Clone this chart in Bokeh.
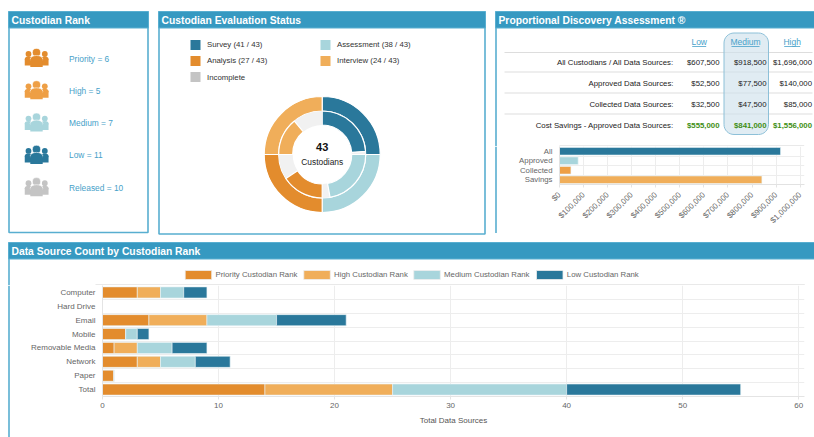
import math
from bokeh.plotting import figure
from bokeh.layouts import column, row
from bokeh.models import Range1d, FactorRange, FixedTicker, NumeralTickFormatter
from bokeh.core.properties import value
from bokeh.embed import file_html
from bokeh.resources import INLINE

FONT = "Liberation Sans"
DARK, LIGHT, ORANGE, AMBER, GREY = "#2A789B", "#A8D5DC", "#E38C2D", "#F0AE5A", "#C4C4C4"
HEAD, EDGE, BLUE = "#3699C1", "#58AED0", "#47A1C9"

rank_names = ["Priority", "High", "Medium", "Low", "Released"]
rank_counts = [6, 5, 7, 11, 10]
rank_colors = [ORANGE, "#EE9F45", LIGHT, DARK, GREY]

status_names = ["Survey", "Assessment", "Analysis", "Interview"]
status_done = [41, 38, 27, 24]
status_total = 43
status_colors = [DARK, LIGHT, ORANGE, AMBER]

pda_levels = ["Low", "Medium", "High"]
pda_rows = ["All Custodians / All Data Sources:", "Approved Data Sources:",
            "Collected Data Sources:", "Cost Savings - Approved Data Sources:"]
pda_low = [607500, 52500, 32500, 555000]
pda_medium = [918500, 77500, 47500, 841000]
pda_high = [1696000, 140000, 85000, 1556000]
pda_bar_names = ["All", "Approved", "Collected", "Savings"]
pda_bar_colors = [DARK, LIGHT, "#EE9F45", AMBER]

sources = ["Computer", "Hard Drive", "Email", "Mobile", "Removable Media", "Network", "Paper", "Total"]
priority = [3, 0, 4, 2, 1, 3, 1, 14]
high = [2, 0, 5, 0, 2, 2, 0, 11]
medium = [2, 0, 6, 1, 3, 3, 0, 15]
low = [2, 0, 6, 1, 3, 3, 0, 15]
stack_names = ["Priority Custodian Rank", "High Custodian Rank", "Medium Custodian Rank", "Low Custodian Rank"]
stack_colors = [ORANGE, AMBER, LIGHT, DARK]


def canvas(x0, x1, y0, y1):
    """A figure whose data coordinates are the page's pixels."""
    p = figure(width=x1 - x0, height=y1 - y0, x_range=Range1d(x0, x1), y_range=Range1d(y1, y0),
               x_axis_type=None, y_axis_type=None, toolbar_location=None, output_backend="svg",
               min_border=0, outline_line_color=None, background_fill_color="white", margin=(0, 0, 0, 0),
               frame_align=False)
    p.grid.visible = False
    return p


def label(p, x, y, text, size="8px", color="#333333", align="left", style="normal"):
    p.text(x=[x], y=[y], text=[text], text_font=value(FONT), text_font_size=size, text_color=color,
           text_align=align, text_baseline="middle", text_font_style=style)


def panel(p, x0, x1, y0, title):
    p.quad(left=x0, right=x1, top=y0, bottom=y0 + 16.5, fill_color=HEAD, line_color=EDGE, line_width=1)
    label(p, x0 + 3, y0 + 8.5, title, "10.3px", "white", style="bold")


def money(v):
    return f"${v:,.0f}"


def rounded(x0, x1, y0, y1, r):
    xs, ys = [], []
    for cx, cy, start in [(x1 - r, y0 + r, -90), (x1 - r, y1 - r, 0), (x0 + r, y1 - r, 90), (x0 + r, y0 + r, 180)]:
        for k in range(9):
            a = math.radians(start + k * 90 / 8)
            xs.append(cx + r * math.cos(a))
            ys.append(cy + r * math.sin(a))
    return xs + xs[:1], ys + ys[:1]


# ---- Custodian Rank
p1 = canvas(0, 153, 0, 238)
p1.quad(left=8.5, right=147.5, top=11.5, bottom=232, fill_color="white", line_color=EDGE, line_width=1.6)
panel(p1, 8, 148, 11, "Custodian Rank")
for i, (n, c, col) in enumerate(zip(rank_names, rank_counts, rank_colors)):
    cy = 58 + i * 32.3
    for dx, w, r, hy, top, bot in [(-8, 7.5, 2.9, -4.5, -1, 7), (8.3, 7.5, 2.9, -4.5, -1, 7)]:
        p1.circle(x=36 + dx, y=cy + hy, radius=r, fill_color=col, line_color=None)
        p1.ellipse(x=36 + dx, y=cy + top + 1.5, width=w, height=5, fill_color=col, line_color=None)
        p1.quad(left=36 + dx - w / 2, right=36 + dx + w / 2, top=cy + top + 1.5, bottom=cy + bot,
                fill_color=col, line_color=None)
    p1.circle(x=36, y=cy - 6, radius=4.1, fill_color=col, line_color="white", line_width=0.6)
    p1.ellipse(x=36, y=cy + 0.5, width=12.5, height=7, fill_color=col, line_color="white", line_width=0.6)
    p1.quad(left=29.8, right=42.2, top=cy + 0.5, bottom=cy + 8.5, fill_color=col, line_color=None)
    label(p1, 68.5, cy, f"{n} = {c}", "8.4px", BLUE)

# ---- Custodian Evaluation Status
p2 = canvas(153, 490, 0, 238)
p2.quad(left=158.5, right=484.5, top=11.5, bottom=233.5, fill_color="white", line_color=EDGE, line_width=1.6)
panel(p2, 158, 485, 11, "Custodian Evaluation Status")
for i, (n, d, col) in enumerate(zip(status_names, status_done, status_colors)):
    lx = 190 if i % 2 == 0 else 320
    ly = 44.5 + (i // 2) * 16
    p2.quad(left=lx, right=lx + 10, top=ly - 5, bottom=ly + 5, fill_color=col, line_color=None)
    label(p2, lx + 16.5, ly - 0.5, f"{n} ({d} / {status_total})", "7.8px")
p2.quad(left=190, right=200, top=71.5, bottom=81.5, fill_color=GREY, line_color=None)
label(p2, 206.5, 76.5, "Incomplete", "7.8px")
cx, cy = 321.7, 154
for i, (d, col) in enumerate(zip(status_done, status_colors)):
    a0 = math.pi / 2 - i * math.pi / 2
    a1 = a0 - math.pi / 2
    am = a0 - d / status_total * math.pi / 2
    p2.annular_wedge(x=cx, y=cy, inner_radius=43.5, outer_radius=58, start_angle=a0, end_angle=a1,
                     direction="clock", fill_color=col, line_color="white", line_width=1.2)
    p2.annular_wedge(x=cx, y=cy, inner_radius=29.5, outer_radius=43.5, start_angle=am, end_angle=a1,
                     direction="clock", fill_color="#F1F1F1", line_color=None)
    p2.annular_wedge(x=cx, y=cy, inner_radius=29.5, outer_radius=43.5, start_angle=a0, end_angle=am,
                     direction="clock", fill_color=col, line_color="white", line_width=1.2)
label(p2, cx, 146, str(status_total), "11px", "#111111", "center", "bold")
label(p2, cx, 161, "Custodians", "8.4px", "#222222", "center")

# ---- Proportional Discovery Assessment
p3a = canvas(490, 814, 0, 146)
p3a.quad(left=495.5, right=830, top=11.5, bottom=170, fill_color="white", line_color=EDGE, line_width=1.6)
panel(p3a, 495, 830, 11, "Proportional Discovery Assessment ®")
row_ys = [62, 83, 103.5, 124.5]
for ly in [52, 71.5, 92.5, 113.5]:
    p3a.line(x=[504, 812], y=[ly, ly], line_color="#DDDDDD", line_width=1)
hx, hy = rounded(723.5, 768, 32.5, 134, 10)
p3a.patch(x=hx, y=hy, fill_color="#CFE2EC", fill_alpha=0.65, line_color="#8DC0D8", line_width=1)
for lv, x, half in zip(pda_levels, [698.7, 745, 791.7], [7, 14, 8]):
    label(p3a, x, 41, lv, "8.5px", BLUE, "center")
    p3a.line(x=[x - half, x + half], y=[46, 46], line_color=BLUE, line_width=0.8)
for name, ly, a, b, c in zip(pda_rows, row_ys, pda_low, pda_medium, pda_high):
    green = name.startswith("Cost")
    label(p3a, 673, ly, name, "7.8px", "#222222", "right")
    for v, x in zip((a, b, c), (719, 766, 811.5)):
        label(p3a, x, ly, money(v), "7.8px", "#3E8E12" if green else "#222222", "right", "bold" if green else "normal")
p3a.line(x=[559, 803.7], y=[145.3, 145.3], line_color="#E2E2E2", line_width=1.2)

p3s = canvas(490, 497, 146, 233)
p3s.line(x=[495.5, 495.5], y=[146, 233], line_color=EDGE, line_width=1.6)
p3b = figure(width=317, height=87, x_range=Range1d(0, 1018000), y_range=FactorRange(factors=pda_bar_names[::-1]),
             toolbar_location=None, output_backend="svg", min_border_left=62, min_border_right=10,
             min_border_top=0, min_border_bottom=49, outline_line_color=None, margin=(0, 0, 0, 0),
             frame_align=False)
p3b.y_range.range_padding = 0
p3b.hbar(y=pda_bar_names, left=0, right=pda_medium, height=0.8, fill_color=pda_bar_colors,
         line_color="#EAF3F6", line_width=0.6)
p3b.xaxis.ticker = FixedTicker(ticks=[i * 100000 for i in range(11)])
p3b.xaxis.formatter = NumeralTickFormatter(format="$0,0")
p3b.xaxis.major_label_orientation = math.pi / 4
p3b.xaxis.major_label_text_font = FONT
p3b.xaxis.major_label_text_font_size = "8px"
p3b.xaxis.major_label_text_color = "#666666"
p3b.xaxis.major_label_standoff = 6
p3b.yaxis.major_label_text_font = FONT
p3b.yaxis.major_label_text_font_size = "7.8px"
p3b.yaxis.major_label_text_color = "#666666"
p3b.yaxis.major_label_standoff = 7
for ax in (p3b.xaxis, p3b.yaxis):
    ax.axis_line_color = "#E2E2E2"
    ax.major_tick_line_color = "#E4E4E4"
    ax.major_tick_in = 0
    ax.major_tick_out = 3
    ax.minor_tick_line_color = None
p3b.yaxis.major_tick_out = 0
p3b.xgrid.ticker = FixedTicker(ticks=[i * 100000 for i in range(11)])
p3b.ygrid.ticker = FixedTicker(ticks=list(range(5)))
p3b.grid.grid_line_color = "#EDEDED"
p3e = canvas(490, 814, 233, 238)
p3e.line(x=[494.7, 814], y=[233.7, 233.7], line_color=EDGE, line_width=1.6)

# ---- Data Source Count by Custodian Rank
p4a = canvas(0, 814, 238, 285)
p4a.quad(left=8.5, right=830, top=242.5, bottom=300, fill_color="white", line_color=EDGE, line_width=1.6)
panel(p4a, 8, 830, 242, "Data Source Count by Custodian Rank")
for lx, name, col in zip([184.7, 303.3, 413.3, 536], stack_names, stack_colors):
    p4a.quad(left=lx, right=lx + 26.5, top=270, bottom=279, fill_color=col, line_color="#EDEDED", line_width=0.8)
    label(p4a, lx + 30.3, 274.3, name, "7.8px", "#666666")
p4a.line(x=[95, 804.3], y=[284.5, 284.5], line_color="#E2E2E2", line_width=1.5)

p4s = canvas(0, 10, 285, 437)
p4s.line(x=[8.5, 8.5], y=[285, 437], line_color=EDGE, line_width=1.6)
p4b = figure(width=804, height=152, x_range=Range1d(0, 60.5), y_range=FactorRange(factors=sources[::-1]),
             toolbar_location=None, output_backend="svg", min_border_left=92, min_border_right=10,
             min_border_top=0, min_border_bottom=41, outline_line_color=None, margin=(0, 0, 0, 0),
             frame_align=False)
p4b.y_range.range_padding = 0
p4b.hbar_stack(["priority", "high", "medium", "low"], y="y", height=0.8, color=stack_colors,
               line_color="#EAF3F6", line_width=0.6,
               source=dict(y=sources, priority=priority, high=high, medium=medium, low=low))
p4b.xaxis.ticker = FixedTicker(ticks=[0, 10, 20, 30, 40, 50, 60])
p4b.xaxis.axis_label = "Total Data Sources"
p4b.xaxis.axis_label_text_font = FONT
p4b.xaxis.axis_label_text_font_style = "normal"
p4b.xaxis.axis_label_text_font_size = "8px"
p4b.xaxis.axis_label_text_color = "#555555"
p4b.xaxis.axis_label_standoff = 5
for ax in (p4b.xaxis, p4b.yaxis):
    ax.major_label_text_font = FONT
    ax.major_label_text_font_size = "8px"
    ax.major_label_text_color = "#666666"
    ax.axis_line_color = "#E4E4E4"
    ax.major_tick_line_color = "#E4E4E4"
    ax.major_tick_in = 0
    ax.major_tick_out = 3
    ax.minor_tick_line_color = None
p4b.yaxis.major_tick_out = 0
p4b.yaxis.major_label_standoff = 7
p4b.xaxis.major_label_standoff = 3
p4b.xgrid.ticker = FixedTicker(ticks=[0, 10, 20, 30, 40, 50, 60])
p4b.ygrid.ticker = FixedTicker(ticks=list(range(9)))
p4b.grid.grid_line_color = "#EDEDED"

right = column(p3a, row(p3s, p3b, spacing=0), p3e, spacing=0)
bottom = column(p4a, row(p4s, p4b, spacing=0), spacing=0)
layout = column(row(p1, p2, right, spacing=0), bottom, spacing=0)
open("out.html", "w").write(file_html(layout, INLINE))
